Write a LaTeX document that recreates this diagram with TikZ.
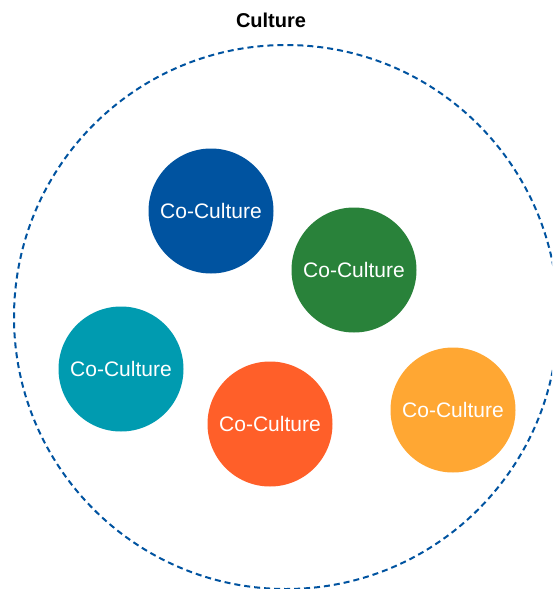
\documentclass[tikz,border=0pt]{standalone}
\usepackage{fontspec}
\setmainfont{Liberation Sans}
\usepackage{tikz}
\usetikzlibrary{positioning}

\definecolor{cultureblue}{HTML}{0053A0}
\definecolor{ccgreen}{HTML}{29823A}
\definecolor{ccteal}{HTML}{009BB0}
\definecolor{ccorange}{HTML}{FF5F29}
\definecolor{ccyellow}{HTML}{FFA733}

\begin{document}
\begin{tikzpicture}[x=1pt,y=-1pt,
        culture/.style={circle,draw=cultureblue,line width=2pt,dash pattern=on 6pt off 4pt,minimum size=544pt,inner sep=0pt},
        coculture/.style={circle,minimum size=125pt,inner sep=0pt,text=white,font=\fontsize{21}{25}\selectfont}]

        \useasboundingbox (0,0) rectangle (552,589);
        \clip (0,0) rectangle (552,589);

        \node[culture] (c) at (286,317) {};
        \node[font=\bfseries\fontsize{20}{24}\selectfont] (c_label) at (271,20) {Culture};

        \node[coculture, fill=cultureblue] (cc_1) at (211,211) {Co-Culture};
        \node[coculture, fill=ccgreen] (cc_2) at (354,270) {Co-Culture};
        \node[coculture, fill=ccteal] (cc_3) at (121,369) {Co-Culture};
        \node[coculture, fill=ccorange] (cc_4) at (270,424) {Co-Culture};
        \node[coculture, fill=ccyellow] (cc_5) at (453,410) {Co-Culture};
    \end{tikzpicture}
\end{document}
